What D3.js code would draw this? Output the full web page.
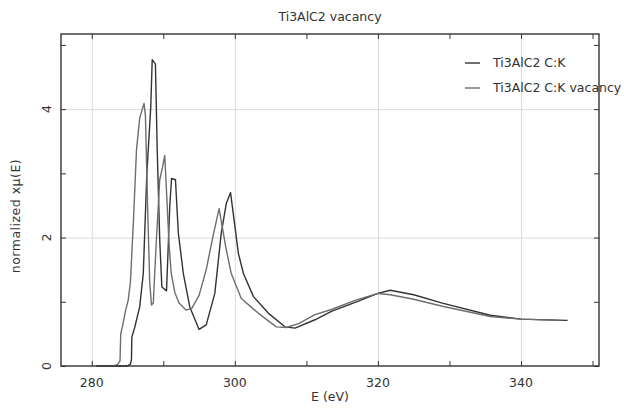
<!DOCTYPE html>
<html>
<head>
<meta charset="utf-8">
<script src="https://cdn.jsdelivr.net/npm/d3@7"></script>
<style>
    body { margin: 0; background: #fff; }
    text { font-family: "DejaVu Sans", sans-serif; fill: #333; }
    .grid line { stroke: #dcdcdc; stroke-width: 1; }
    .grid path { display: none; }
    .tick-only path { display: none; }
    .tick-only line { stroke: #333; }
</style>
</head>
<body>
<svg id="chart"></svg>
<script>
// Ti3AlC2 C:K (darker curve)
const energyRef = [280.6, 285.0, 285.4, 285.55, 285.6, 286.0, 286.7, 287.2, 287.7, 288.25, 288.45, 288.9, 289.15, 289.5, 289.8, 290.45,
    290.9, 291.15, 291.7, 292.1, 292.8, 293.7, 295.0, 296.0, 297.2, 298.1, 298.8, 299.4, 300.5, 301.2, 302.6, 304.7,
    307.0, 308.4, 311.2, 313.5, 317.0, 320.0, 321.7, 325.0, 329.0, 335.7, 340.0, 346.5]
const muRef = [0, 0, 0.03, 0.1, 0.45, 0.6, 0.92, 1.44, 3.0, 4.04, 4.77, 4.70, 3.36, 1.96, 1.23, 1.17,
    2.48, 2.92, 2.9, 2.07, 1.44, 0.92, 0.57, 0.64, 1.13, 2.07, 2.53, 2.70, 1.75, 1.44, 1.08, 0.82,
    0.61, 0.59, 0.72, 0.85, 1.0, 1.13, 1.18, 1.11, 0.98, 0.79, 0.73, 0.71]

// Ti3AlC2 C:K vacancy (lighter curve)
const energyVac = [280.6, 283.0, 283.6, 283.95, 284.05, 284.3, 284.7, 285.1, 285.4, 285.8, 286.25, 286.7, 287.3, 287.5, 287.8, 288.1,
    288.35, 288.6, 289.0, 289.5, 289.9, 290.2, 290.5, 290.8, 291.1, 291.6, 292.2, 293.2, 294.0, 295.0, 296.0, 297.0,
    297.8, 298.8, 299.5, 300.9, 303.3, 305.8, 307.2, 308.9, 311.2, 313.5, 317.0, 320.0, 321.7, 325.0, 329.0,
    335.7, 340.0, 345.0]
const muVac = [0, 0, 0.02, 0.08, 0.5, 0.62, 0.85, 1.03, 1.3, 2.2, 3.36, 3.86, 4.09, 3.9, 2.5, 1.3,
    0.95, 0.98, 1.9, 2.9, 3.1, 3.28, 2.6, 1.9, 1.45, 1.15, 0.98, 0.87, 0.9, 1.1, 1.5, 2.05,
    2.45, 1.81, 1.44, 1.05, 0.82, 0.61, 0.60, 0.66, 0.8, 0.88, 1.03, 1.13, 1.11, 1.04, 0.93,
    0.77, 0.73, 0.71]

const seriesNames = ['Ti3AlC2 C:K', 'Ti3AlC2 C:K vacancy']
const seriesColors = ['#333333', '#6e6e6e']
const xTicks = [280, 300, 320, 340]
const yTicks = [0, 2, 4]

const width = 624, height = 410
const margin = { top: 34, right: 25, bottom: 44, left: 61 }
const innerW = width - margin.left - margin.right
const innerH = height - margin.top - margin.bottom

const svg = d3.select('#chart')
    .attr('width', width)
    .attr('height', height)

const chart = svg.append('g')
    .attr('transform', `translate(${margin.left}, ${margin.top})`)

const xScale = d3.scaleLinear().domain([275.7, 350.9]).range([0, innerW])
const yScale = d3.scaleLinear().domain([0, 5.17]).range([innerH, 0])

// grid
chart.append('g')
    .attr('class', 'grid')
    .attr('transform', `translate(0, ${innerH})`)
    .call(d3.axisBottom(xScale).tickValues(xTicks).tickSize(-innerH).tickFormat(''))
chart.append('g')
    .attr('class', 'grid')
    .call(d3.axisLeft(yScale).tickValues([2, 4]).tickSize(-innerW).tickFormat(''))

// inward ticks on all sides
const xMinor = d3.range(280, 351, 10)
const yMinor = d3.range(0, 5.1, 1)
chart.append('g').attr('class', 'tick-only')
    .attr('transform', `translate(0, ${innerH})`)
    .call(d3.axisTop(xScale).tickValues(xMinor).tickSize(5).tickFormat(''))
chart.append('g').attr('class', 'tick-only')
    .call(d3.axisBottom(xScale).tickValues(xMinor).tickSize(5).tickFormat(''))
chart.append('g').attr('class', 'tick-only')
    .call(d3.axisRight(yScale).tickValues(yMinor).tickSize(5).tickFormat(''))
chart.append('g').attr('class', 'tick-only')
    .attr('transform', `translate(${innerW}, 0)`)
    .call(d3.axisLeft(yScale).tickValues(yMinor).tickSize(5).tickFormat(''))

// curves
const line = d3.line()
    .x(d => xScale(d[0]))
    .y(d => yScale(d[1]))

const series = [
    d3.zip(energyRef, muRef),
    d3.zip(energyVac, muVac)
]

chart.selectAll('.curve')
    .data(series)
    .join('path')
        .attr('class', 'curve')
        .attr('fill', 'none')
        .attr('stroke', (d, i) => seriesColors[i])
        .attr('stroke-width', 1.4)
        .attr('stroke-linejoin', 'round')
        .attr('d', line)

// frame
chart.append('rect')
    .attr('width', innerW)
    .attr('height', innerH)
    .attr('fill', 'none')
    .attr('stroke', '#333')
    .attr('stroke-width', 1.4)

// tick labels
chart.selectAll('.x-label')
    .data(xTicks)
    .join('text')
        .attr('class', 'x-label')
        .attr('x', d => xScale(d))
        .attr('y', innerH + 21)
        .attr('text-anchor', 'middle')
        .attr('font-size', 12.5)
        .text(d => d)

chart.selectAll('.y-label')
    .data(yTicks)
    .join('text')
        .attr('class', 'y-label')
        .attr('transform', d => `translate(-10, ${yScale(d)}) rotate(-90)`)
        .attr('text-anchor', 'middle')
        .attr('font-size', 12.5)
        .text(d => d)

// titles
svg.append('text')
    .attr('x', margin.left + innerW / 2)
    .attr('y', 21)
    .attr('text-anchor', 'middle')
    .attr('font-size', 12.5)
    .text('Ti3AlC2 vacancy')

svg.append('text')
    .attr('x', margin.left + innerW / 2)
    .attr('y', 401)
    .attr('text-anchor', 'middle')
    .attr('font-size', 12.5)
    .text('E (eV)')

svg.append('text')
    .attr('transform', `translate(20, 216) rotate(-90)`)
    .attr('text-anchor', 'middle')
    .attr('font-size', 12.5)
    .attr('letter-spacing', 0.5)
    .text('normalized xμ(E)')

// legend
const legend = svg.selectAll('.legend')
    .data(seriesNames)
    .join('g')
        .attr('class', 'legend')
        .attr('transform', (d, i) => `translate(465, ${63 + i * 25})`)

legend.append('line')
    .attr('x1', 0).attr('x2', 15)
    .attr('stroke', (d, i) => seriesColors[i])
    .attr('stroke-width', 1.4)

legend.append('text')
    .attr('x', 28)
    .attr('dy', '0.35em')
    .attr('font-size', 12.5)
    .text(d => d)
</script>
</body>
</html>
